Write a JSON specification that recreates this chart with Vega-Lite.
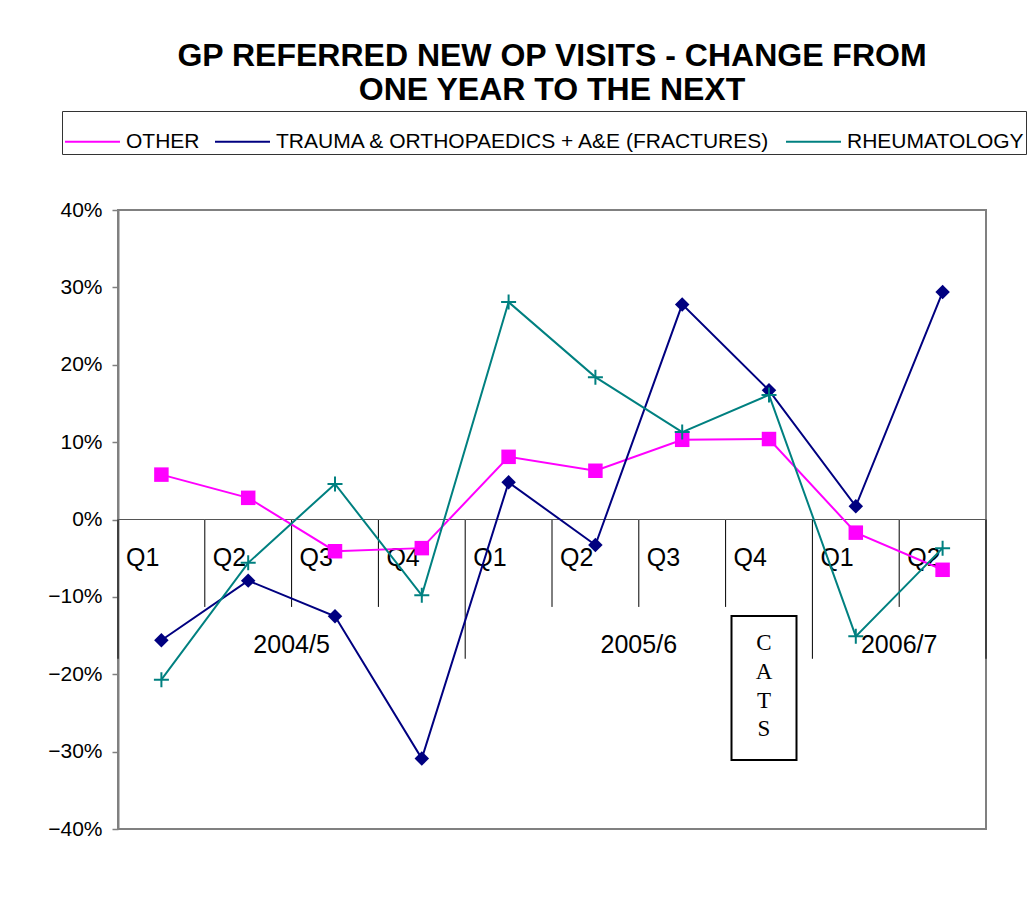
{
  "$schema": "https://vega.github.io/schema/vega-lite/v6.json",
  "width": 868,
  "height": 619,
  "autosize": {"type": "none"},
  "padding": {"left": 118, "top": 210, "right": 46, "bottom": 86},
  "background": "white",
  "config": {"view": {"stroke": "#808080", "strokeWidth": 2}},
  "title": {
    "text": ["GP REFERRED NEW OP VISITS - CHANGE FROM", "ONE YEAR TO THE NEXT"],
    "font": "Liberation Sans", "fontSize": 32, "fontWeight": "bold", "color": "black",
    "anchor": "middle", "offset": 4
  },
  "data": {
    "values": [
      {"period": "2004/5 Q1", "year": "2004/5", "quarter": "Q1", "series": "OTHER", "value": 0.058},
      {"period": "2004/5 Q2", "year": "2004/5", "quarter": "Q2", "series": "OTHER", "value": 0.028},
      {"period": "2004/5 Q3", "year": "2004/5", "quarter": "Q3", "series": "OTHER", "value": -0.041},
      {"period": "2004/5 Q4", "year": "2004/5", "quarter": "Q4", "series": "OTHER", "value": -0.037},
      {"period": "2005/6 Q1", "year": "2005/6", "quarter": "Q1", "series": "OTHER", "value": 0.081},
      {"period": "2005/6 Q2", "year": "2005/6", "quarter": "Q2", "series": "OTHER", "value": 0.063},
      {"period": "2005/6 Q3", "year": "2005/6", "quarter": "Q3", "series": "OTHER", "value": 0.103},
      {"period": "2005/6 Q4", "year": "2005/6", "quarter": "Q4", "series": "OTHER", "value": 0.104},
      {"period": "2006/7 Q1", "year": "2006/7", "quarter": "Q1", "series": "OTHER", "value": -0.017},
      {"period": "2006/7 Q2", "year": "2006/7", "quarter": "Q2", "series": "OTHER", "value": -0.065},
      {"period": "2004/5 Q1", "year": "2004/5", "quarter": "Q1", "series": "TRAUMA & ORTHOPAEDICS + A&E (FRACTURES)", "value": -0.156},
      {"period": "2004/5 Q2", "year": "2004/5", "quarter": "Q2", "series": "TRAUMA & ORTHOPAEDICS + A&E (FRACTURES)", "value": -0.079},
      {"period": "2004/5 Q3", "year": "2004/5", "quarter": "Q3", "series": "TRAUMA & ORTHOPAEDICS + A&E (FRACTURES)", "value": -0.125},
      {"period": "2004/5 Q4", "year": "2004/5", "quarter": "Q4", "series": "TRAUMA & ORTHOPAEDICS + A&E (FRACTURES)", "value": -0.309},
      {"period": "2005/6 Q1", "year": "2005/6", "quarter": "Q1", "series": "TRAUMA & ORTHOPAEDICS + A&E (FRACTURES)", "value": 0.048},
      {"period": "2005/6 Q2", "year": "2005/6", "quarter": "Q2", "series": "TRAUMA & ORTHOPAEDICS + A&E (FRACTURES)", "value": -0.033},
      {"period": "2005/6 Q3", "year": "2005/6", "quarter": "Q3", "series": "TRAUMA & ORTHOPAEDICS + A&E (FRACTURES)", "value": 0.278},
      {"period": "2005/6 Q4", "year": "2005/6", "quarter": "Q4", "series": "TRAUMA & ORTHOPAEDICS + A&E (FRACTURES)", "value": 0.167},
      {"period": "2006/7 Q1", "year": "2006/7", "quarter": "Q1", "series": "TRAUMA & ORTHOPAEDICS + A&E (FRACTURES)", "value": 0.017},
      {"period": "2006/7 Q2", "year": "2006/7", "quarter": "Q2", "series": "TRAUMA & ORTHOPAEDICS + A&E (FRACTURES)", "value": 0.294},
      {"period": "2004/5 Q1", "year": "2004/5", "quarter": "Q1", "series": "RHEUMATOLOGY", "value": -0.207},
      {"period": "2004/5 Q2", "year": "2004/5", "quarter": "Q2", "series": "RHEUMATOLOGY", "value": -0.056},
      {"period": "2004/5 Q3", "year": "2004/5", "quarter": "Q3", "series": "RHEUMATOLOGY", "value": 0.046},
      {"period": "2004/5 Q4", "year": "2004/5", "quarter": "Q4", "series": "RHEUMATOLOGY", "value": -0.098},
      {"period": "2005/6 Q1", "year": "2005/6", "quarter": "Q1", "series": "RHEUMATOLOGY", "value": 0.281},
      {"period": "2005/6 Q2", "year": "2005/6", "quarter": "Q2", "series": "RHEUMATOLOGY", "value": 0.184},
      {"period": "2005/6 Q3", "year": "2005/6", "quarter": "Q3", "series": "RHEUMATOLOGY", "value": 0.113},
      {"period": "2005/6 Q4", "year": "2005/6", "quarter": "Q4", "series": "RHEUMATOLOGY", "value": 0.161},
      {"period": "2006/7 Q1", "year": "2006/7", "quarter": "Q1", "series": "RHEUMATOLOGY", "value": -0.151},
      {"period": "2006/7 Q2", "year": "2006/7", "quarter": "Q2", "series": "RHEUMATOLOGY", "value": -0.037}
    ]
  },
  "encoding": {
    "x": {
      "field": "period", "type": "ordinal",
      "scale": {"type": "band", "paddingInner": 0, "paddingOuter": 0},
      "sort": ["2004/5 Q1", "2004/5 Q2", "2004/5 Q3", "2004/5 Q4", "2005/6 Q1", "2005/6 Q2", "2005/6 Q3", "2005/6 Q4", "2006/7 Q1", "2006/7 Q2"],
      "axis": null
    }
  },
  "layer": [
    {
      "transform": [{"filter": "datum.series === 'OTHER' && datum.quarter !== 'Q1'"}],
      "mark": {"type": "rule", "color": "black", "strokeWidth": 1, "xOffset": -43.4},
      "encoding": {
        "y": {"datum": 0},
        "y2": {"datum": -0.113}
      }
    },
    {
      "transform": [{"filter": "datum.series === 'OTHER' && datum.quarter === 'Q1'"}],
      "mark": {"type": "rule", "color": "black", "strokeWidth": 1, "xOffset": -43.4},
      "encoding": {
        "y": {"datum": 0},
        "y2": {"datum": -0.18}
      }
    },
    {
      "transform": [{"filter": "datum.series === 'OTHER' && datum.period === '2006/7 Q2'"}],
      "mark": {"type": "rule", "color": "black", "strokeWidth": 1, "xOffset": 43.4},
      "encoding": {
        "y": {"datum": 0},
        "y2": {"datum": -0.18}
      }
    },
    {
      "transform": [{"filter": "datum.series === 'OTHER'"}],
      "mark": {"type": "rule", "color": "#555555", "strokeWidth": 1.2, "xOffset": -43.4, "x2Offset": 43.4},
      "encoding": {
        "y": {"datum": 0},
        "x2": {"field": "period", "type": "ordinal"}
      }
    },
    {
      "transform": [{"filter": "datum.series === 'OTHER'"}],
      "mark": {"type": "text", "align": "left", "baseline": "alphabetic", "xOffset": -35.4, "font": "Liberation Sans", "fontSize": 25, "color": "black"},
      "encoding": {
        "y": {"datum": -0.0607},
        "text": {"field": "quarter"}
      }
    },
    {
      "transform": [{"filter": "datum.series === 'OTHER' && (datum.period === '2004/5 Q3' || datum.period === '2005/6 Q3' || datum.period === '2006/7 Q2')"}],
      "mark": {"type": "text", "align": "center", "baseline": "alphabetic", "xOffset": -43.4, "font": "Liberation Sans", "fontSize": 25, "color": "black"},
      "encoding": {
        "y": {"datum": -0.172},
        "text": {"field": "year"}
      }
    },
    {
      "mark": {"type": "line", "strokeWidth": 2},
      "encoding": {
        "y": {
          "field": "value", "type": "quantitative",
          "scale": {"domain": [-0.4, 0.4], "nice": false, "zero": false},
          "axis": {
            "values": [-0.4, -0.3, -0.2, -0.1, 0, 0.1, 0.2, 0.3, 0.4],
            "format": ".0%",
            "title": null, "grid": false,
            "domainColor": "#808080", "domainWidth": 2,
            "tickColor": "#808080", "tickSize": 6, "tickWidth": 1.5,
            "labelFont": "Liberation Sans", "labelFontSize": 21, "labelColor": "black", "labelPadding": 10
          }
        },
        "color": {
          "field": "series", "type": "nominal",
          "scale": {"domain": ["OTHER", "TRAUMA & ORTHOPAEDICS + A&E (FRACTURES)", "RHEUMATOLOGY"], "range": ["#FF00FF", "#000080", "#008080"]},
          "legend": {
            "orient": "none", "legendX": -56, "legendY": -99, "direction": "horizontal",
            "title": null, "labelFont": "Liberation Sans", "labelFontSize": 21, "labelColor": "black",
            "labelOffset": 5, "columnPadding": 11, "padding": 2, "labelLimit": 700,
            "strokeColor": "#333333",
            "symbolSize": 3025, "symbolStrokeWidth": 2
          }
        }
      }
    },
    {
      "transform": [{"filter": "datum.series === 'OTHER'"}],
      "mark": {"type": "point", "shape": "square", "filled": true, "color": "#FF00FF", "size": 210, "opacity": 1},
      "encoding": {
        "y": {"field": "value", "type": "quantitative"}
      }
    },
    {
      "transform": [{"filter": "datum.series === 'TRAUMA & ORTHOPAEDICS + A&E (FRACTURES)'"}],
      "mark": {"type": "point", "shape": "diamond", "filled": true, "color": "#000080", "size": 210, "opacity": 1},
      "encoding": {
        "y": {"field": "value", "type": "quantitative"}
      }
    },
    {
      "transform": [{"filter": "datum.series === 'RHEUMATOLOGY'"}],
      "mark": {"type": "point", "shape": "M-1,0H1M0,-1V1", "filled": false, "color": "#008080", "size": 225, "strokeWidth": 2, "opacity": 1},
      "encoding": {
        "y": {"field": "value", "type": "quantitative"}
      }
    },
    {
      "transform": [{"filter": "datum.series === 'OTHER' && datum.period === '2005/6 Q4'"}],
      "mark": {"type": "bar", "width": 65, "xOffset": -5, "fill": "white", "stroke": "black", "strokeWidth": 2},
      "encoding": {
        "y": {"datum": -0.1247},
        "y2": {"datum": -0.3108}
      }
    },
    {
      "transform": [{"filter": "datum.series === 'OTHER' && datum.period === '2005/6 Q4'"}],
      "mark": {"type": "text", "text": "C A T S", "align": "center", "baseline": "alphabetic", "lineBreak": " ", "lineHeight": 28.7, "xOffset": -5, "font": "Liberation Serif", "fontSize": 23, "color": "black"},
      "encoding": {
        "y": {"datum": -0.169}
      }
    }
  ]
}
